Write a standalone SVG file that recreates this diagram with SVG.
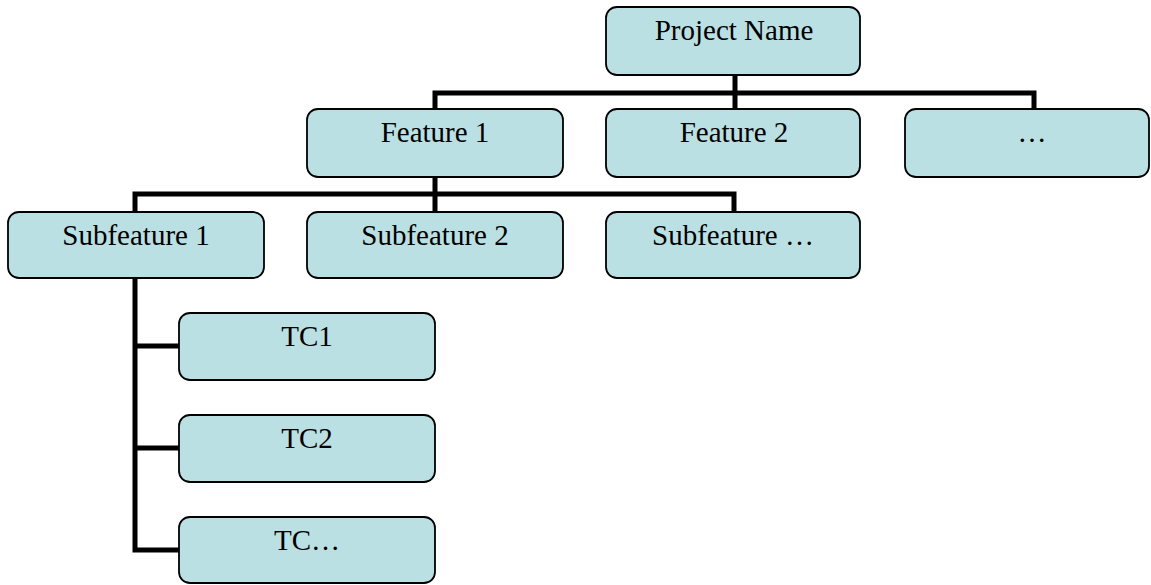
<svg xmlns="http://www.w3.org/2000/svg" width="1151" height="585" viewBox="0 0 1151 585">
<style>
.box{fill:#BBE0E3;stroke:#000;stroke-width:1.8}
.lbl{font-family:"Liberation Serif","Times New Roman",serif;font-size:29px;fill:#000;text-anchor:middle}
.conn{fill:none;stroke:#000;stroke-width:5;stroke-linejoin:miter;stroke-linecap:butt}
</style>
<rect width="1151" height="585" fill="#fff"/>
<g id="connectors">
<path class="conn" d="M735 75 V109 M435 109 V93 H1034 V109"/>
<path class="conn" d="M435 177 V211 M135 212 V194 H734 V211 M435 194 V211"/>
<path class="conn" d="M135 278 V550 H179 M135 346 H179 M135 448 H179"/>
</g>
<g id="project"><rect class="box" x="606" y="7" width="254" height="68" rx="11"/><text class="lbl" x="734" y="40">Project Name</text></g>
<g id="feature1"><rect class="box" x="307" y="109" width="256" height="68" rx="11"/><text class="lbl" x="435" y="142">Feature 1</text></g>
<g id="feature2"><rect class="box" x="606" y="109" width="254" height="68" rx="11"/><text class="lbl" x="734" y="142">Feature 2</text></g>
<g id="feature3"><rect class="box" x="905" y="109" width="244" height="68" rx="11"/><text class="lbl" x="1032" y="142">…</text></g>
<g id="sub1"><rect class="box" x="8" y="212" width="256" height="66" rx="11"/><text class="lbl" x="136" y="245">Subfeature 1</text></g>
<g id="sub2"><rect class="box" x="307" y="212" width="256" height="66" rx="11"/><text class="lbl" x="435" y="245">Subfeature 2</text></g>
<g id="sub3"><rect class="box" x="606" y="212" width="254" height="66" rx="11"/><text class="lbl" x="733" y="245">Subfeature …</text></g>
<g id="tc1"><rect class="box" x="179" y="313" width="256" height="67" rx="11"/><text class="lbl" x="307" y="346">TC1</text></g>
<g id="tc2"><rect class="box" x="179" y="415" width="256" height="67" rx="11"/><text class="lbl" x="307" y="448">TC2</text></g>
<g id="tc3"><rect class="box" x="179" y="517" width="256" height="66" rx="11"/><text class="lbl" x="307" y="550">TC…</text></g>
</svg>
